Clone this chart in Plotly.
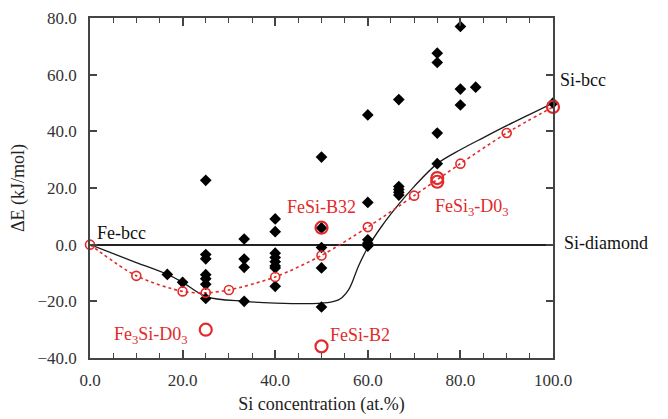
import plotly.graph_objects as go

# ---- data ----
diamond_x = [16.7, 20,
             25, 25, 25, 25, 25, 25, 25,
             33.3, 33.3, 33.3, 33.3,
             40, 40, 40, 40, 40, 40, 40, 40,
             50, 50, 50, 50, 50,
             60, 60, 60, 60, 60,
             66.7, 66.7, 66.7, 66.7, 66.7,
             75, 75, 75, 75,
             80, 80, 80,
             83.3, 100]
diamond_y = [-10.5, -13.3,
             22.7, -3.5, -5.0, -10.6, -12.0, -14.0, -19.0,
             2.0, -5.1, -8.0, -20.0,
             9.1, 4.6, -3.0, -4.5, -6.0, -7.5, -8.2, -14.7,
             30.9, 5.9, -1.0, -8.2, -22.0,
             45.8, 14.9, 1.7, 0.5, -0.5,
             51.2, 20.5, 19.5, 18.5, 17.5,
             67.6, 64.3, 39.4, 28.6,
             77.0, 54.9, 49.3,
             55.6, 50.0]

small_x = [0, 10, 20, 25, 30, 40, 50, 60, 70, 80, 90]
small_y = [0, -11.0, -16.5, -17.0, -16.0, -11.4, -3.8, 6.2, 17.3, 28.6, 39.4]

large_x = [25, 50, 50, 75, 75, 100]
large_y = [-30.0, -35.9, 6.0, 23.5, 22.2, 48.6]

hull_x = [0, 10, 16.7, 20, 25, 33.3, 40, 48, 52, 54, 56, 58, 60, 63, 66.7, 70, 75, 80, 85, 90, 95, 100]
hull_y = [0, -6.3, -10.5, -13.3, -18.3, -20.0, -20.6, -20.8, -20.3, -19.2, -15.5, -7.5, -1.0, 6.5, 14.3, 20.5, 28.6, 33.5, 37.8, 42.0, 46.0, 50.0]

dot_x = [0, 10, 20, 25, 30, 40, 50, 60, 70, 80, 90, 100]
dot_y = [0, -11.0, -16.5, -17.0, -16.0, -11.4, -3.8, 6.2, 17.3, 28.6, 39.4, 48.6]

x_ticks = [0, 20, 40, 60, 80, 100]
y_ticks = [-40, -20, 0, 20, 40, 60, 80]

RED = "#e22a2a"
FONT = "Times New Roman, Liberation Serif, Tinos, DejaVu Serif, serif"

fig = go.Figure()
fig.add_trace(go.Scatter(x=hull_x, y=hull_y, mode="lines",
                         line=dict(color="#1a1a1a", width=1.3, shape="spline", smoothing=0.9),
                         hoverinfo="skip", cliponaxis=False))
fig.add_trace(go.Scatter(x=dot_x, y=dot_y, mode="lines",
                         line=dict(color=RED, width=1.6, dash="dot", shape="spline", smoothing=0.8),
                         hoverinfo="skip", cliponaxis=False))
fig.add_trace(go.Scatter(x=diamond_x, y=diamond_y, mode="markers",
                         marker=dict(symbol="diamond", size=9, color="black"),
                         cliponaxis=False))
fig.add_trace(go.Scatter(x=small_x, y=small_y, mode="markers",
                         marker=dict(symbol="circle-open", size=9, color=RED, line=dict(width=1.6, color=RED)),
                         cliponaxis=False))
fig.add_trace(go.Scatter(x=large_x, y=large_y, mode="markers",
                         marker=dict(symbol="circle-open", size=12, color=RED, line=dict(width=2.2, color=RED)),
                         cliponaxis=False))

ann = [
    dict(x=1.1, y=4.0, text="Fe-bcc", color="#111", xanchor="left", xref="x"),
    dict(x=1.011, y=58.2, text="Si-bcc", color="#111", xanchor="left", xref="paper"),
    dict(x=1.02, y=0.5, text="Si-diamond", color="#111", xanchor="left", xref="paper"),
    dict(x=49.9, y=13.4, text="FeSi-B32", color=RED, xanchor="center", xref="x"),
    dict(x=74, y=13.0, text="FeSi<sub>3</sub>-D0<sub>3</sub>", color=RED, xanchor="left", xref="x"),
    dict(x=4.7, y=-32.2, text="Fe<sub>3</sub>Si-D0<sub>3</sub>", color=RED, xanchor="left", xref="x"),
    dict(x=51.4, y=-31.9, text="FeSi-B2", color=RED, xanchor="left", xref="x"),
]
for a in ann:
    fig.add_annotation(x=a["x"], y=a["y"], xref=a["xref"], yref="y", text=a["text"], showarrow=False,
                       xanchor=a["xanchor"], yanchor="middle",
                       font=dict(family=FONT, size=18, color=a["color"]))

axis_common = dict(showline=True, linecolor="#444", linewidth=1.5, mirror="allticks",
                   ticks="inside", tickcolor="#444", showgrid=False, automargin=False,
                   tickfont=dict(family=FONT, size=17, color="#333"),
                   tickformat=".1f")
fig.update_xaxes(range=[0, 100], tickvals=x_ticks, ticklen=8, tickwidth=1.5,
                 minor=dict(dtick=5, tick0=0, ticks="inside", ticklen=5, tickcolor="#444", tickwidth=1.2),
                 zeroline=False, ticklabelstandoff=6,
                 title=dict(text="Si concentration (at.%)", font=dict(family=FONT, size=18, color="#222"), standoff=8),
                 **axis_common)
fig.update_yaxes(range=[-40, 80], tickvals=y_ticks, ticklen=7, tickwidth=1.5,
                 zeroline=True, zerolinecolor="#222", zerolinewidth=1.5, ticklabelstandoff=8,
                 title=dict(text="ΔE (kJ/mol)", font=dict(family=FONT, size=18, color="#222"), standoff=12),
                 **axis_common)

fig.update_layout(width=660, height=411, margin=dict(l=82, r=115, t=10, b=61),
                  plot_bgcolor="white", paper_bgcolor="white", showlegend=False,
                  font=dict(family=FONT))
fig.write_html("out.html")
